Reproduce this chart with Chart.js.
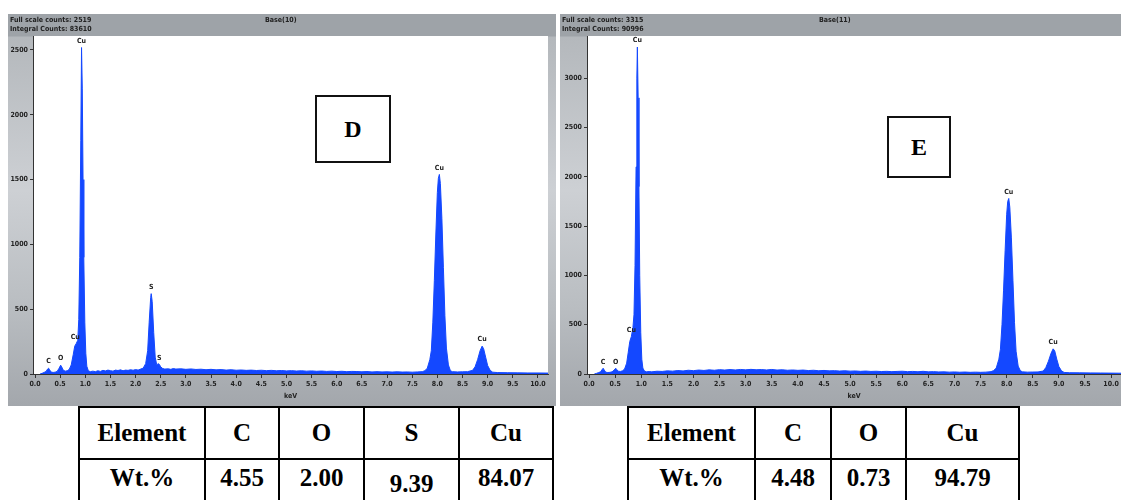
<!DOCTYPE html>
<html>
<head>
<meta charset="utf-8">
<script src="https://cdn.jsdelivr.net/npm/chart.js@4.4.1/dist/chart.umd.min.js"></script>
<style>
  body { margin: 0; width: 1121px; height: 500px; background: #fff; overflow: hidden; position: relative; }
  .frame { position: absolute; top: 14px; height: 392px;
           background: linear-gradient(to bottom, #9ea3a8 0px, #9ea3a8 22px, #b4b8bc 23px, #cdd0d4 45%, #b9bdc1 75%, #a3a7ac 100%); }
  .frame canvas { position: absolute; left: 0; top: 0; }
  .hdr { position: absolute; font: bold 7px "Liberation Sans Narrow", "DejaVu Sans Condensed", sans-serif; color: #222; white-space: nowrap; }
  .tag { position: absolute; border: 2px solid #111; background: #fff; font: bold 24px "Liberation Serif", "Times New Roman", serif;
         display: flex; align-items: center; justify-content: center; box-sizing: border-box; }
  table.wt { position: absolute; top: 406px; border-collapse: collapse; font: bold 25px "Liberation Serif", "Times New Roman", serif; }
  table.wt td { border: 2px solid #000; text-align: center; padding: 0; }
  table.wt tr.h td { height: 50px; }
  table.wt tr.v td { height: 48px; vertical-align: top; padding-top: 4px; }
</style>
</head>
<body>

<div class="frame" id="frameD" style="left:8px; width:548px;">
  <canvas id="specD" width="548" height="392"></canvas>
  <div class="hdr" style="left:2px; top:2px;">Full scale counts: 2519</div>
  <div class="hdr" style="left:2px; top:11px;">Integral Counts: 83610</div>
  <div class="hdr" style="left:257px; top:2px;">Base(10)</div>
</div>

<div class="frame" id="frameE" style="left:560px; width:561px;">
  <canvas id="specE" width="561" height="392"></canvas>
  <div class="hdr" style="left:2px; top:2px;">Full scale counts: 3315</div>
  <div class="hdr" style="left:2px; top:11px;">Integral Counts: 90996</div>
  <div class="hdr" style="left:259px; top:2px;">Base(11)</div>
</div>

<div class="tag" style="left:315px; top:95px; width:76px; height:68px;">D</div>
<div class="tag" style="left:887px; top:116px; width:64px; height:62px;">E</div>

<table class="wt" style="left:78px;">
  <tr class="h"><td style="width:124px">Element</td><td style="width:72px">C</td><td style="width:83px">O</td><td style="width:93px">S</td><td style="width:92px">Cu</td></tr>
  <tr class="v"><td>Wt.%</td><td>4.55</td><td>2.00</td><td style="padding-top:10px">9.39</td><td>84.07</td></tr>
</table>

<table class="wt" style="left:627px;">
  <tr class="h"><td style="width:125px">Element</td><td style="width:74px">C</td><td style="width:73px">O</td><td style="width:111px">Cu</td></tr>
  <tr class="v"><td>Wt.%</td><td>4.48</td><td>0.73</td><td>94.79</td></tr>
</table>

<script>
// energy axis ticks (keV)
const kevTicks = [0, 0.5, 1, 1.5, 2, 2.5, 3, 3.5, 4, 4.5, 5, 5.5, 6, 6.5, 7, 7.5, 8, 8.5, 9, 9.5, 10];
// count axis ticks
const countTicksD = [0, 500, 1000, 1500, 2000, 2500];
const countTicksE = [0, 500, 1000, 1500, 2000, 2500, 3000];

// spectrum D
const kevD = [0.10, 0.14, 0.18, 0.22, 0.25, 0.27, 0.29, 0.32, 0.36, 0.40, 0.44, 0.48, 0.51, 0.53, 0.56, 0.60, 0.64, 0.68,
  0.72, 0.76, 0.79, 0.82, 0.85, 0.87, 0.89, 0.91, 0.925, 0.94, 0.955, 0.97, 0.99, 1.01, 1.03, 1.06, 1.10,
  1.15, 1.20, 1.25, 1.30, 1.35, 1.40, 1.45, 1.50, 1.55, 1.60, 1.65, 1.70, 1.75, 1.80, 1.85, 1.90, 1.95, 2.00, 2.05, 2.10, 2.15,
  2.20, 2.24, 2.27, 2.30, 2.31, 2.33, 2.36, 2.39, 2.42, 2.45, 2.47, 2.50, 2.54, 2.58,
  2.65, 2.70, 2.75, 2.80, 2.90, 3.00, 3.10, 3.20, 3.30, 3.40, 3.50, 3.60, 3.70, 3.80, 3.90, 4.00, 4.10, 4.20, 4.30, 4.40,
  4.50, 4.60, 4.70, 4.80, 4.90, 5.00, 5.10, 5.20, 5.30, 5.40, 5.50, 5.60, 5.70, 5.80, 5.90, 6.00, 6.10, 6.20, 6.30, 6.40,
  6.50, 6.60, 6.70, 6.80, 6.90, 7.00, 7.10, 7.20, 7.30, 7.40, 7.50, 7.60, 7.70, 7.75,
  7.80, 7.85, 7.88, 7.91, 7.94, 7.97, 8.00, 8.02, 8.04, 8.06, 8.09, 8.12, 8.15, 8.18, 8.22, 8.26, 8.30, 8.40, 8.50, 8.60,
  8.70, 8.75, 8.80, 8.85, 8.89, 8.92, 8.96, 9.00, 9.05, 9.10, 9.20, 9.40, 9.60, 9.80, 10.00, 10.20];
const countsD = [0, 5, 12, 20, 38, 45, 32, 15, 12, 14, 20, 45, 68, 55, 30, 22, 25, 35,
  70, 150, 215, 235, 260, 420, 900, 1800, 2519, 2200, 1500, 900, 400, 160, 60, 25, 18,
  22, 18, 25, 20, 28, 24, 30, 26, 22, 30, 27, 32, 25, 30, 28, 33, 29, 34, 30, 38, 45,
  80, 180, 400, 590, 620, 560, 320, 130, 70, 80, 75, 55, 42, 38,
  40, 36, 42, 38, 40, 36, 39, 35, 37, 33, 36, 32, 34, 30, 33, 29, 31, 28, 30, 27,
  29, 26, 28, 25, 27, 24, 26, 23, 25, 22, 24, 21, 23, 20, 22, 19, 21, 18, 20, 19,
  17, 19, 16, 18, 16, 17, 15, 17, 15, 16, 14, 16, 18, 25,
  45, 110, 180, 400, 720, 1080, 1400, 1510, 1540, 1470, 1200, 820, 450, 200, 70, 25, 18, 16, 17, 18,
  28, 55, 110, 180, 215, 195, 130, 65, 28, 14, 11, 10, 9, 8, 8, 7];

// spectrum E
const kevE = [0.10, 0.14, 0.18, 0.22, 0.25, 0.27, 0.29, 0.32, 0.36, 0.40, 0.44, 0.48, 0.51, 0.53, 0.56, 0.60, 0.64, 0.68,
  0.72, 0.75, 0.78, 0.81, 0.84, 0.86, 0.88, 0.90, 0.915, 0.925, 0.94, 0.955, 0.97, 0.99, 1.01, 1.03, 1.06, 1.10,
  1.15, 1.20, 1.30, 1.40, 1.50, 1.60, 1.70, 1.80, 1.90, 2.00, 2.10, 2.20, 2.30, 2.40, 2.50, 2.60, 2.70, 2.80, 2.90, 3.00,
  3.10, 3.20, 3.30, 3.40, 3.50, 3.60, 3.70, 3.80, 3.90, 4.00, 4.10, 4.20, 4.30, 4.40, 4.50, 4.60, 4.70, 4.80, 4.90, 5.00,
  5.10, 5.20, 5.30, 5.40, 5.50, 5.60, 5.70, 5.80, 5.90, 6.00, 6.10, 6.20, 6.30, 6.40, 6.50, 6.60, 6.70, 6.80, 6.90, 7.00,
  7.10, 7.20, 7.30, 7.40, 7.50, 7.60, 7.70, 7.75,
  7.80, 7.85, 7.88, 7.91, 7.94, 7.97, 8.00, 8.02, 8.04, 8.06, 8.09, 8.12, 8.15, 8.18, 8.22, 8.26, 8.30, 8.40, 8.50, 8.60,
  8.70, 8.75, 8.80, 8.85, 8.89, 8.92, 8.96, 9.00, 9.05, 9.10, 9.20, 9.40, 9.60, 9.80, 10.00, 10.20];
const countsE = [0, 6, 14, 22, 45, 58, 40, 18, 15, 17, 22, 40, 58, 45, 28, 26, 32, 50,
  110, 220, 330, 380, 470, 600, 1100, 2100, 3000, 3315, 2800, 1900, 1000, 420, 150, 60, 30, 22,
  25, 22, 28, 26, 32, 29, 35, 31, 38, 34, 40, 36, 42, 38, 44, 40, 45, 41, 46, 42,
  47, 43, 45, 41, 46, 40, 43, 38, 41, 37, 40, 35, 38, 33, 36, 32, 34, 30, 33, 29,
  31, 27, 30, 26, 28, 25, 27, 24, 26, 28, 24, 26, 23, 27, 22, 24, 21, 22, 19, 21,
  18, 20, 17, 19, 17, 19, 24, 35,
  60, 150, 250, 500, 850, 1250, 1620, 1750, 1780, 1690, 1380, 950, 520, 230, 80, 35, 22, 19, 20, 21,
  30, 65, 130, 210, 255, 235, 150, 75, 32, 16, 13, 12, 11, 10, 9, 8];

// peak identifications
const peakNamesD = ['C', 'O', 'Cu', 'Cu', 'S', 'S', 'Cu', 'Cu'];
const peakKevD = [0.27, 0.51, 0.80, 0.925, 2.31, 2.47, 8.04, 8.89];
const peakNamesE = ['C', 'O', 'Cu', 'Cu', 'Cu', 'Cu'];
const peakKevE = [0.27, 0.51, 0.81, 0.925, 8.04, 8.89];

const specBlue = '#1448ff';
const axisFont = { family: '"Liberation Sans Narrow", "DejaVu Sans Condensed", sans-serif', size: 7, weight: 'bold' };

// white plot window on the grey instrument frame
const plotBg = {
  id: 'plotBg',
  beforeDraw(chart) {
    const a = chart.chartArea, ctx = chart.ctx;
    ctx.save();
    ctx.fillStyle = '#ffffff';
    ctx.fillRect(a.left, a.top, a.right - a.left, a.bottom - a.top);
    ctx.restore();
  }
};

// element names over the peaks
const peakTags = {
  id: 'peakTags',
  afterDatasetsDraw(chart, args, opts) {
    const ctx = chart.ctx, xs = chart.scales.x, ys = chart.scales.y;
    const pts = chart.data.datasets[0].data;
    ctx.save();
    ctx.font = 'bold 7px "Liberation Sans Narrow", "DejaVu Sans Condensed", sans-serif';
    ctx.fillStyle = '#222';
    ctx.textAlign = 'center';
    ctx.textBaseline = 'bottom';
    opts.names.forEach((n, i) => {
      const e = opts.kev[i];
      let top = 0;
      pts.forEach(p => { if (Math.abs(p.x - e) <= 0.02 && p.y > top) top = p.y; });
      ctx.fillText(n, xs.getPixelForValue(e), ys.getPixelForValue(top) - 3);
    });
    ctx.restore();
  }
};

function drawSpectrum(id, kev, counts, countTicks, yMax, xMin, xMax, yAxisW, padRight, names, peaks) {
  const pts = kev.map((e, i) => ({ x: e, y: counts[i] }));
  return new Chart(document.getElementById(id), {
    type: 'line',
    data: { datasets: [{ data: pts, borderColor: specBlue, backgroundColor: specBlue, borderWidth: 1,
                         pointRadius: 0, tension: 0, fill: 'origin' }] },
    plugins: [plotBg, peakTags],
    options: {
      responsive: false, animation: false, devicePixelRatio: 1,
      layout: { padding: { left: 0, right: padRight, top: 22, bottom: 0 } },
      plugins: { legend: { display: false }, tooltip: { enabled: false },
                 peakTags: { names: names, kev: peaks } },
      scales: {
        x: {
          type: 'linear', min: xMin, max: xMax,
          afterBuildTicks: ax => { ax.ticks = kevTicks.map(v => ({ value: v })); },
          afterFit: ax => { ax.height = 32; },
          border: { color: '#333', width: 1 },
          grid: { drawOnChartArea: false, drawTicks: true, tickLength: 4, color: '#333' },
          ticks: { font: axisFont, color: '#222', padding: 2, maxRotation: 0, autoSkip: false,
                   callback: v => Number(v).toFixed(1) },
          title: { display: true, text: 'keV', font: axisFont, color: '#222', padding: { top: 0, bottom: 6 } }
        },
        y: {
          min: 0, max: yMax,
          afterBuildTicks: ax => { ax.ticks = countTicks.map(v => ({ value: v })); },
          afterFit: ax => { ax.width = yAxisW; },
          border: { color: '#333', width: 1 },
          grid: { drawOnChartArea: false, drawTicks: true, tickLength: 3, color: '#333' },
          ticks: { font: axisFont, color: '#222', padding: 2, autoSkip: false, callback: v => String(v) }
        }
      }
    }
  });
}

drawSpectrum('specD', kevD, countsD, countTicksD, 2608, -0.04, 10.2, 25, 8, peakNamesD, peakKevD);
drawSpectrum('specE', kevE, countsE, countTicksE, 3427, -0.04, 10.19, 27, 0, peakNamesE, peakKevE);
</script>
</body>
</html>
